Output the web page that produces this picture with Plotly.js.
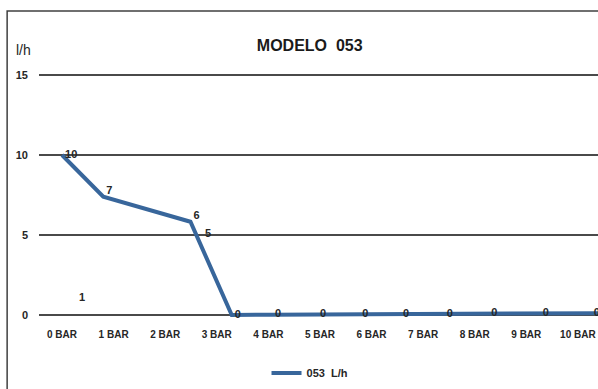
<!DOCTYPE html>
<html>
<head>
<meta charset="utf-8">
<script src="https://cdn.plot.ly/plotly-3.0.1.min.js"></script>
<style>html,body{margin:0;padding:0;background:#fff;}#chart{width:598px;height:389px;}</style>
</head>
<body>
<div id="chart"></div>
<script>
// Category tick labels (pressure)
const categories = ["0 BAR","1 BAR","2 BAR","3 BAR","4 BAR","5 BAR","6 BAR","7 BAR","8 BAR","9 BAR","10 BAR"];
const categoryPositions = [0,1,2,3,4,5,6,7,8,9,10];
// Series "053 L/h": position along the pressure axis and flow values
const seriesX = [0, 0.80, 2.49, 3.29, 4.07, 4.94, 5.76, 6.55, 7.40, 8.26, 9.26, 10.25, 10.6];
const seriesY = [10, 7.39, 5.83, 0, 0.02, 0.03, 0.04, 0.05, 0.06, 0.08, 0.09, 0.11, 0.12];
const seriesLabels = ["10","7","6","0","0","0","0","0","0","0","0","0",""];
const labelPositions = ["middle right","top right","top right","middle right","middle right","middle right","middle right","middle right","middle right","middle right","middle right","middle right","middle right"];
// Stray data labels visible in the chart
const strayX = [0.39, 2.83];
const strayY = [1.06, 5.06];
const strayLabels = ["1","5"];
const yTicks = [0,5,10,15];

const labelFont = {family: "Liberation Sans, Arial, sans-serif", size: 11, color: "#262626", weight: "bold"};
const pad = s => (s ? "\u00a0" + s : s);

const traces = [
  {
    type: "scatter", mode: "lines+text", name: "053\u00a0 L/h",
    x: seriesX, y: seriesY, text: seriesLabels.map(pad), textposition: labelPositions,
    textfont: labelFont, cliponaxis: false,
    line: {color: "#38669b", width: 4}
  },
  {
    type: "scatter", mode: "text", showlegend: false, hoverinfo: "skip",
    x: strayX, y: strayY, text: strayLabels, textposition: "middle center",
    textfont: labelFont, cliponaxis: false
  }
];

const layout = {
  width: 598, height: 389,
  margin: {l: 39, r: 0, t: 71, b: 70, pad: 0},
  paper_bgcolor: "#ffffff", plot_bgcolor: "#ffffff",
  font: {family: "Liberation Sans, Arial, sans-serif", color: "#262626"},
  title: {
    text: "MODELO\u00a0 053",
    font: {family: "Liberation Sans, Arial, sans-serif", size: 16, color: "#1a1a1a", weight: "bold"},
    x: 0.518, xref: "container", xanchor: "center",
    y: 1 - 45/389, yref: "container", yanchor: "middle"
  },
  xaxis: {
    type: "linear", range: [-0.446, 10.39],
    tickmode: "array", tickvals: categoryPositions, ticktext: categories,
    showgrid: false, zeroline: false, showline: false, ticks: "",
    ticklabelstandoff: 8,
    tickfont: {family: "Liberation Sans, Arial, sans-serif", size: 10, color: "#262626", weight: "bold"}
  },
  yaxis: {
    range: [-0.25, 15.25], tickmode: "array", tickvals: yTicks,
    showgrid: true, gridcolor: "#4a4a4a", gridwidth: 1.3,
    zeroline: false, showline: false, ticks: "",
    ticklabelstandoff: 10,
    tickfont: {family: "Liberation Sans, Arial, sans-serif", size: 11, color: "#262626", weight: "bold"}
  },
  showlegend: true,
  legend: {
    orientation: "h", x: 0.407, xanchor: "left", y: -0.218, yanchor: "middle",
    font: {family: "Liberation Sans, Arial, sans-serif", size: 11, color: "#262626", weight: "bold"},
    bgcolor: "rgba(0,0,0,0)"
  },
  annotations: [
    {text: "l/h", xref: "paper", yref: "paper", x: -0.045, y: 1.085, xanchor: "left", yanchor: "middle",
     showarrow: false, font: {family: "Liberation Sans, Arial, sans-serif", size: 14, color: "#262626"}}
  ],
  shapes: [
    {type: "rect", xref: "paper", yref: "paper", x0: -0.057, x1: 1.1, y0: -0.5, y1: 1.242,
     line: {color: "#404040", width: 1.5}, fillcolor: "rgba(0,0,0,0)", layer: "below"}
  ]
};

Plotly.newPlot("chart", traces, layout, {displayModeBar: false, staticPlot: true});
</script>
</body>
</html>
